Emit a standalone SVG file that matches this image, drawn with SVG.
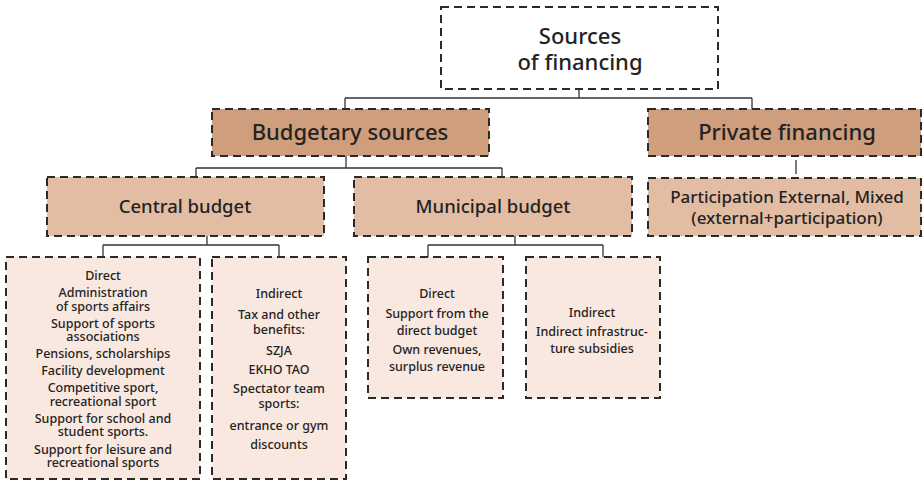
<svg xmlns="http://www.w3.org/2000/svg" width="923" height="481" viewBox="0 0 923 481">
<style>
.box{stroke:#2a2a2a;stroke-width:2;stroke-dasharray:8 5}
.l1{fill:#cf9e7c}
.l2{fill:#e3bda3}
.l3{fill:#f8e8e0}
.top{fill:#ffffff}
text{font-family:"Noto Sans","Open Sans","Liberation Sans",sans-serif;font-weight:500;fill:#232323;text-anchor:middle}
.t1{font-size:22px}
.t2{font-size:18.5px}
.t3{font-size:17px}
.t4{font-size:12.5px}
.conn line{stroke:#333;stroke-width:1.3}
</style>
<g class="conn" id="connectors">
<line x1="579" y1="89" x2="579" y2="98"/>
<line x1="345" y1="98" x2="752" y2="98"/>
<line x1="345" y1="98" x2="345" y2="109"/>
<line x1="752" y1="98" x2="752" y2="109"/>
<line x1="346" y1="156" x2="346" y2="168"/>
<line x1="196" y1="168" x2="502" y2="168"/>
<line x1="196" y1="168" x2="196" y2="177"/>
<line x1="502" y1="168" x2="502" y2="177"/>
<line x1="796" y1="160" x2="796" y2="174"/>
<line x1="207" y1="236" x2="207" y2="245"/>
<line x1="103" y1="245" x2="279" y2="245"/>
<line x1="103" y1="245" x2="103" y2="257"/>
<line x1="279" y1="245" x2="279" y2="257"/>
<line x1="515" y1="236" x2="515" y2="245"/>
<line x1="428" y1="245" x2="603" y2="245"/>
<line x1="428" y1="245" x2="428" y2="257"/>
<line x1="603" y1="245" x2="603" y2="257"/>
</g>
<g id="sources">
<rect class="box top" x="441" y="7" width="277" height="82"/>
<text class="t1" x="580" y="44">Sources</text>
<text class="t1" x="580" y="70">of financing</text>
</g>
<g id="budgetary">
<rect class="box l1" x="212" y="109" width="277" height="47"/>
<text class="t1" x="350" y="140">Budgetary sources</text>
</g>
<g id="private">
<rect class="box l1" x="648" y="109" width="273" height="47"/>
<text class="t1" x="787" y="140">Private financing</text>
</g>
<g id="participation">
<rect class="box l2" x="648" y="178" width="273" height="58"/>
<text class="t3" x="787" y="203">Participation External, Mixed</text>
<text class="t3" x="787" y="224">(external+participation)</text>
</g>
<g id="central">
<rect class="box l2" x="47" y="177" width="277" height="59"/>
<text class="t2" x="185" y="213">Central budget</text>
</g>
<g id="municipal">
<rect class="box l2" x="354" y="177" width="278" height="59"/>
<text class="t2" x="493" y="213">Municipal budget</text>
</g>
<g id="central-direct">
<rect class="box l3" x="6" y="257" width="194" height="222"/>
<text class="t4" x="103" y="279.5">Direct</text>
<text class="t4" x="103" y="297">Administration</text>
<text class="t4" x="103" y="311">of sports affairs</text>
<text class="t4" x="103" y="327.5">Support of sports</text>
<text class="t4" x="103" y="341">associations</text>
<text class="t4" x="103" y="357.5">Pensions, scholarships</text>
<text class="t4" x="103" y="374.5">Facility development</text>
<text class="t4" x="103" y="391.5">Competitive sport,</text>
<text class="t4" x="103" y="406">recreational sport</text>
<text class="t4" x="103" y="422.5">Support for school and</text>
<text class="t4" x="103" y="436">student sports.</text>
<text class="t4" x="103" y="453.5">Support for leisure and</text>
<text class="t4" x="103" y="466.5">recreational sports</text>
</g>
<g id="central-indirect">
<rect class="box l3" x="212" y="257" width="134" height="222"/>
<text class="t4" x="279" y="297.5">Indirect</text>
<text class="t4" x="279" y="318.5">Tax and other</text>
<text class="t4" x="279" y="333.5">benefits:</text>
<text class="t4" x="279" y="354.5">SZJA</text>
<text class="t4" x="279" y="373.5">EKHO TAO</text>
<text class="t4" x="279" y="392.5">Spectator team</text>
<text class="t4" x="279" y="407.5">sports:</text>
<text class="t4" x="279" y="430">entrance or gym</text>
<text class="t4" x="279" y="448.5">discounts</text>
</g>
<g id="municipal-direct">
<rect class="box l3" x="368" y="257" width="135" height="141"/>
<text class="t4" x="437" y="297.5">Direct</text>
<text class="t4" x="437" y="317.5">Support from the</text>
<text class="t4" x="437" y="334.5">direct budget</text>
<text class="t4" x="437" y="353.5">Own revenues,</text>
<text class="t4" x="437" y="370.5">surplus revenue</text>
</g>
<g id="municipal-indirect">
<rect class="box l3" x="526" y="257" width="134" height="141"/>
<text class="t4" x="592" y="316.5">Indirect</text>
<text class="t4" x="592" y="335.5">Indirect infrastruc-</text>
<text class="t4" x="592" y="352.5">ture subsidies</text>
</g>
</svg>
